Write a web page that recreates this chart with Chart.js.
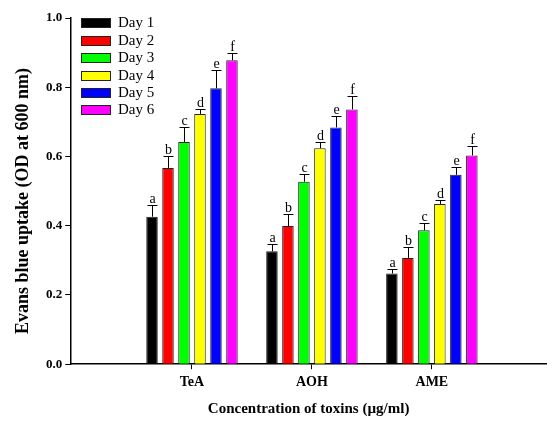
<!DOCTYPE html>
<html>
<head>
<meta charset="utf-8">
<script src="https://cdn.jsdelivr.net/npm/chart.js@4.4.1/dist/chart.umd.min.js"></script>
<style>
  html, body { margin: 0; padding: 0; background: #fff; }
  #wrap { width: 547px; height: 423px; position: relative; }
</style>
</head>
<body>
<div id="wrap"><canvas id="c" width="547" height="423"></canvas></div>
<script>
const categories = ['TeA', 'AOH', 'AME'];
const seriesNames = ['Day 1', 'Day 2', 'Day 3', 'Day 4', 'Day 5', 'Day 6'];
const letters = ['a', 'b', 'c', 'd', 'e', 'f'];

const day1 = [0.426, 0.326, 0.262];
const day2 = [0.567, 0.399, 0.307];
const day3 = [0.642, 0.527, 0.387];
const day4 = [0.723, 0.624, 0.463];
const day5 = [0.797, 0.684, 0.547];
const day6 = [0.878, 0.736, 0.603];

const day1Err = [0.034, 0.021, 0.013];
const day2Err = [0.034, 0.034, 0.032];
const day3Err = [0.042, 0.022, 0.022];
const day4Err = [0.013, 0.017, 0.011];
const day5Err = [0.053, 0.032, 0.022];
const day6Err = [0.022, 0.038, 0.027];

const yTicks = [0.0, 0.2, 0.4, 0.6, 0.8, 1.0];
const yTitle = 'Evans blue uptake (OD at 600 nm)';
const xTitle = 'Concentration of toxins (µg/ml)';

const colors = ['#000000', '#ff0000', '#00ff00', '#ffff00', '#0000ff', '#ff00ff'];
const values = [day1, day2, day3, day4, day5, day6];
const errors = [day1Err, day2Err, day3Err, day4Err, day5Err, day6Err];

const SERIF = '"Liberation Serif", "Times New Roman", serif';

const datasets = values.map((vals, i) => ({
  label: seriesNames[i],
  data: vals.map((v, j) => ({ x: j + 1, y: v })),
  errs: errors[i],
  letter: letters[i],
  backgroundColor: colors[i],
  borderColor: '#222222',
  borderWidth: 1,
  barPercentage: 0.72,
  categoryPercentage: 0.8
}));

const errorBarPlugin = {
  id: 'errorBars',
  afterDatasetsDraw(chart) {
    const ctx = chart.ctx;
    const yScale = chart.scales.y;
    ctx.save();
    chart.data.datasets.forEach((ds, di) => {
      const meta = chart.getDatasetMeta(di);
      meta.data.forEach((el, j) => {
        const v = ds.data[j].y;
        const e = ds.errs[j];
        const yTop = Math.round(yScale.getPixelForValue(v + e)) + 0.5;
        const x = Math.round(el.x) + 0.5;
        ctx.strokeStyle = '#000';
        ctx.lineWidth = 1;
        ctx.beginPath();
        ctx.moveTo(x, el.y);
        ctx.lineTo(x, yTop);
        ctx.moveTo(x - 5, yTop);
        ctx.lineTo(x + 5, yTop);
        ctx.stroke();
        ctx.fillStyle = '#000';
        ctx.font = '14px ' + SERIF;
        ctx.textAlign = 'center';
        ctx.textBaseline = 'alphabetic';
        ctx.fillText(ds.letter, x, yTop - 3);
      });
    });
    ctx.restore();
  }
};

const legendPlugin = {
  id: 'boxLegend',
  afterDraw(chart) {
    const ctx = chart.ctx;
    ctx.save();
    chart.data.datasets.forEach((ds, i) => {
      const cy = Math.round(23.3 + i * 17.4);
      ctx.fillStyle = ds.backgroundColor;
      ctx.fillRect(81, cy - 5, 30, 10);
      ctx.strokeStyle = '#222';
      ctx.lineWidth = 1;
      ctx.strokeRect(81.5, cy - 4.5, 29, 9);
      ctx.fillStyle = '#000';
      ctx.font = '15px ' + SERIF;
      ctx.textAlign = 'left';
      ctx.textBaseline = 'middle';
      ctx.fillText(ds.label, 118, cy + 0.5);
    });
    // rotated y-axis title
    ctx.translate(23, 201);
    ctx.rotate(-Math.PI / 2);
    ctx.fillStyle = '#000';
    ctx.font = 'bold 18px ' + SERIF;
    ctx.textAlign = 'center';
    ctx.textBaseline = 'middle';
    ctx.fillText(yTitle, 0, 0);
    ctx.restore();
  }
};

new Chart(document.getElementById('c'), {
  type: 'bar',
  data: { datasets },
  options: {
    responsive: false,
    animation: false,
    devicePixelRatio: 1,
    layout: { padding: { top: 18, right: 0, left: 43, bottom: 5 } },
    plugins: {
      legend: { display: false },
      tooltip: { enabled: false }
    },
    scales: {
      x: {
        type: 'linear',
        min: -0.015,
        max: 3.96,
        offset: false,
        afterBuildTicks(scale) {
          scale.ticks = categories.map((c, i) => ({ value: i + 1 }));
        },
        ticks: {
          autoSkip: false,
          maxRotation: 0,
          color: '#000',
          font: { family: SERIF, size: 14, weight: 'bold' },
          padding: 5,
          callback: (v) => categories[Math.round(v) - 1] || ''
        },
        grid: {
          display: true,
          offset: false,
          drawOnChartArea: false,
          drawTicks: true,
          tickLength: 5,
          color: '#000',
          lineWidth: 1
        },
        border: { display: true, color: '#000', width: 1.5 },
        title: {
          display: true,
          text: xTitle,
          color: '#000',
          font: { family: SERIF, size: 15, weight: 'bold' },
          padding: { top: 4, bottom: 0 }
        }
      },
      y: {
        min: 0,
        max: 1,
        afterBuildTicks(scale) {
          scale.ticks = yTicks.map(v => ({ value: v }));
        },
        ticks: {
          color: '#000',
          font: { family: SERIF, size: 13, weight: 'bold' },
          padding: 3,
          callback: (v) => Number(v).toFixed(1)
        },
        grid: {
          display: true,
          drawOnChartArea: false,
          drawTicks: true,
          tickLength: 5,
          color: '#000',
          lineWidth: 1
        },
        border: { display: true, color: '#000', width: 1.5 },
        title: { display: false }
      }
    }
  },
  plugins: [errorBarPlugin, legendPlugin]
});
</script>
</body>
</html>
